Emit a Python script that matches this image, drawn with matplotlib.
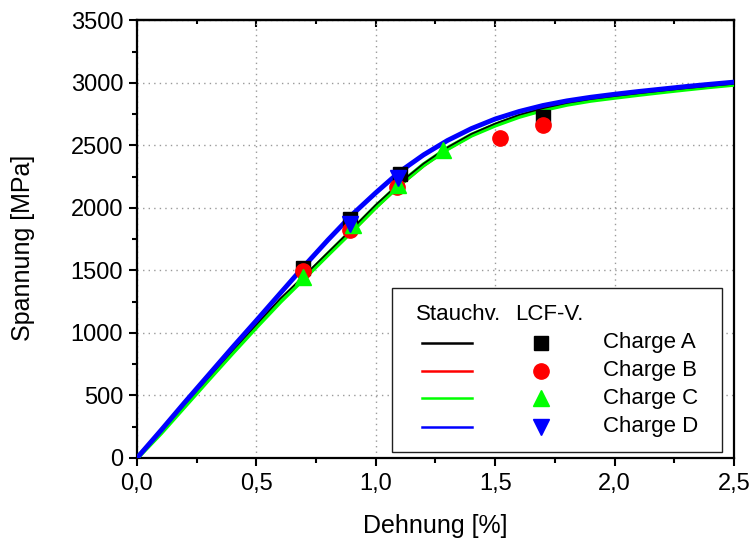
import matplotlib
matplotlib.use("Agg")
import matplotlib.pyplot as plt
from matplotlib.ticker import MultipleLocator, FuncFormatter
from matplotlib.patches import Rectangle
from matplotlib.lines import Line2D

plt.rcParams['font.family'] = ['Liberation Sans', 'DejaVu Sans']

# Stauchversuch: Dehnung [%] vs. Spannung [MPa]
strain = [0.0, 0.1, 0.2, 0.3, 0.4, 0.5, 0.6, 0.7, 0.8, 0.9, 1.0, 1.1, 1.2,
          1.3, 1.4, 1.5, 1.6, 1.7, 1.8, 1.9, 2.0, 2.1, 2.2, 2.3, 2.4, 2.5]
stress_a = [0, 210, 430, 645, 860, 1068, 1275, 1458, 1645, 1832, 2025, 2200,
            2355, 2485, 2592, 2675, 2745, 2798, 2840, 2871, 2895, 2917, 2938,
            2958, 2976, 2993]
stress_b = [0, 205, 420, 635, 848, 1055, 1258, 1440, 1628, 1812, 2005, 2182,
            2340, 2472, 2582, 2665, 2735, 2790, 2832, 2864, 2889, 2912, 2933,
            2953, 2972, 2990]
stress_c = [0, 200, 415, 630, 842, 1050, 1252, 1440, 1630, 1818, 2010, 2188,
            2345, 2475, 2582, 2663, 2732, 2786, 2829, 2861, 2885, 2908, 2930,
            2951, 2971, 2989]
stress_d = [0, 220, 445, 665, 885, 1100, 1318, 1535, 1745, 1945, 2122, 2290,
            2425, 2540, 2635, 2712, 2772, 2820, 2857, 2886, 2910, 2932, 2952,
            2972, 2990, 3007]

# LCF-Versuche
lcf_a_x = [0.697, 0.892, 1.101, 1.701]
lcf_a_y = [1516, 1915, 2275, 2727]
lcf_b_x = [0.697, 0.892, 1.087, 1.520, 1.701]
lcf_b_y = [1495, 1822, 2168, 2560, 2666]
lcf_c_x = [0.697, 0.906, 1.094, 1.283]
lcf_c_y = [1449, 1862, 2182, 2461]
lcf_d_x = [0.892, 1.094]
lcf_d_y = [1875, 2243]

charges = ['Charge A', 'Charge B', 'Charge C', 'Charge D']
colors = ['#000000', '#ff0000', '#00ff00', '#0000ff']
markers = ['s', 'o', '^', 'v']
msizes = [9.5, 11, 12, 12]

fig = plt.figure(figsize=(7.53, 5.42), dpi=100)
ax = fig.add_axes([0.1819, 0.155, 0.7929, 0.8072])

# curves
ax.plot(strain, stress_b, color=colors[1], lw=2.5, zorder=3)
ax.plot(strain, stress_c, color=colors[2], lw=3.5, zorder=3.1)
ax.plot(strain, stress_a, color=colors[0], lw=1.2, zorder=3.2)
ax.plot(strain, stress_d, color=colors[3], lw=3.5, zorder=3.3)

# points
pts = [(lcf_a_x, lcf_a_y), (lcf_b_x, lcf_b_y), (lcf_c_x, lcf_c_y), (lcf_d_x, lcf_d_y)]
for (px, py), c, m, ms in zip(pts, colors, markers, msizes):
    ax.plot(px, py, linestyle='none', marker=m, ms=ms, color=c, mec=c, zorder=4)

ax.set_xlim(0, 2.5)
ax.set_ylim(0, 3500)
ax.xaxis.set_major_locator(MultipleLocator(0.5))
ax.xaxis.set_minor_locator(MultipleLocator(0.25))
ax.yaxis.set_major_locator(MultipleLocator(500))
ax.yaxis.set_minor_locator(MultipleLocator(250))
ax.xaxis.set_major_formatter(FuncFormatter(lambda v, p: f"{v:.1f}".replace('.', ',')))
ax.yaxis.set_major_formatter(FuncFormatter(lambda v, p: f"{v:.0f}"))

ax.grid(True, which='major', linestyle=(0, (1, 3)), color='#9a9a9a', lw=1.0)
ax.set_axisbelow(True)

for s in ax.spines.values():
    s.set_linewidth(1.6)

ax.tick_params(axis='both', which='major', direction='out', length=6, width=1.5,
               labelsize=17, top=False, right=False)
ax.tick_params(axis='both', which='minor', direction='out', length=3.5, width=1.5,
               top=False, right=False)
ax.tick_params(axis='x', which='major', pad=5)
ax.tick_params(axis='y', which='major', pad=4)

top = ax.secondary_xaxis('top')
top.xaxis.set_major_locator(MultipleLocator(0.5))
top.xaxis.set_minor_locator(MultipleLocator(0.25))
top.tick_params(which='major', direction='in', length=5, width=1.5, labeltop=False)
top.tick_params(which='minor', direction='in', length=3, width=1.5)
top.spines['top'].set_linewidth(1.6)

ax.set_xlabel('Dehnung [%]', fontsize=18, va='top')
ax.xaxis.set_label_coords(0.5, -0.127)
ax.set_ylabel('Spannung [MPa]', fontsize=18)
ax.yaxis.set_label_coords(-0.171, 0.48)

# legend block
T = ax.transAxes
ax.add_patch(Rectangle((0.4271, 0.0137), 0.5528, 0.3749, transform=T,
                       facecolor='white', edgecolor='#202020', lw=1.0, zorder=5))
ax.text(0.4673, 0.3269, 'Stauchv.', transform=T, fontsize=16, va='center',
        ha='left', zorder=6)
ax.text(0.6332, 0.3269, 'LCF-V.', transform=T, fontsize=16, va='center',
        ha='left', zorder=6)
rows = [0.2629, 0.1989, 0.1371, 0.0709]
for yr, c, m, ms, lab in zip(rows, colors, markers, msizes, charges):
    ax.add_line(Line2D([0.4774, 0.5611], [yr, yr], transform=T, color=c,
                       lw=1.8, zorder=6))
    ax.add_line(Line2D([0.6767], [yr], transform=T, marker=m, ms=ms, color=c,
                       mec=c, linestyle='none', zorder=6))
    ax.text(0.7806, yr, lab, transform=T, fontsize=16, va='center', ha='left',
            zorder=6)

fig.savefig('out.png', dpi=100)
